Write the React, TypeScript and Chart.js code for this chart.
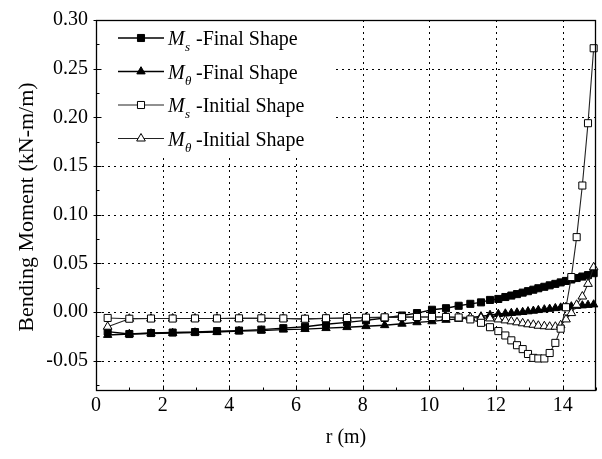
import React, { useEffect, useRef } from "react";
import { Chart, registerables } from "chart.js";
Chart.register(...registerables);

// Radial positions of mesh nodes (m)
const rNodes = [
  0.35, 1.0, 1.65, 2.3, 2.97, 3.63, 4.29, 4.96, 5.62, 6.27, 6.9, 7.53, 8.1, 8.66,
  9.18, 9.63, 10.08, 10.5, 10.88, 11.23, 11.55, 11.82, 12.07, 12.28, 12.46, 12.63,
  12.8, 12.96, 13.12, 13.27, 13.45, 13.61, 13.78, 13.94, 14.1, 14.26, 14.42, 14.59,
  14.76, 14.93,
];

const msFinal = [
  -0.02, -0.0225, -0.0215, -0.021, -0.0205, -0.0195, -0.019, -0.018, -0.0165, -0.015,
  -0.0125, -0.0105, -0.0085, -0.006, -0.0035, -0.001, 0.0024, 0.004, 0.0065, 0.0085,
  0.01, 0.0125, 0.0135, 0.0155, 0.017, 0.0185, 0.02, 0.0215, 0.023, 0.0245, 0.026,
  0.0275, 0.029, 0.0305, 0.032, 0.0335, 0.035, 0.0365, 0.038, 0.04,
];

const mthFinal = [
  -0.0235, -0.0225, -0.022, -0.0215, -0.021, -0.0205, -0.0195, -0.019, -0.018, -0.0175,
  -0.0165, -0.0155, -0.0145, -0.0135, -0.012, -0.0105, -0.0095, -0.008, -0.007, -0.0055,
  -0.0045, -0.003, -0.002, -0.0015, -0.001, -0.0005, 0.0, 0.0007, 0.0013, 0.002, 0.0027,
  0.0033, 0.004, 0.0046, 0.0052, 0.0058, 0.0063, 0.0068, 0.0073, 0.0078,
];

const msInitial = [
  -0.006, -0.0068, -0.0066, -0.0066, -0.0065, -0.0065, -0.0064, -0.0064, -0.0065, -0.0068,
  -0.0063, -0.006, -0.0057, -0.0054, -0.0052, -0.005, -0.005, -0.005, -0.0055, -0.0075,
  -0.011, -0.0155, -0.0195, -0.024, -0.029, -0.034, -0.038, -0.043, -0.047, -0.0476,
  -0.0476, -0.042, -0.0316, -0.017, 0.005, 0.036, 0.077, 0.13, 0.194, 0.271,
];

const mthInitial = [
  -0.015, -0.0068, -0.0066, -0.0066, -0.0065, -0.0065, -0.0064, -0.0064, -0.0066, -0.0072,
  -0.0065, -0.006, -0.0057, -0.0054, -0.0052, -0.005, -0.005, -0.005, -0.0052, -0.0055,
  -0.006, -0.0065, -0.0075, -0.0085, -0.0095, -0.0105, -0.0115, -0.0125, -0.013, -0.014,
  -0.0145, -0.015, -0.015, -0.0135, -0.0075, -0.001, 0.0075, 0.016, 0.029, 0.046,
];

const xTickValues = [0, 2, 4, 6, 8, 10, 12, 14];
const xMinorValues = [1, 3, 5, 7, 9, 11, 13, 15];
const yTickValues = [-0.05, 0.0, 0.05, 0.1, 0.15, 0.2, 0.25, 0.3];
const yMinorValues = [-0.075, -0.025, 0.025, 0.075, 0.125, 0.175, 0.225, 0.275];

const X_MIN = 0;
const X_MAX = 15;
const Y_MIN = -0.08;
const Y_MAX = 0.3;

const xTitle = "r (m)";
const yTitle = "Bending Moment (kN-m/m)";

const seriesNames = [
  { sym: "M", sub: "s", text: "-Final Shape" },
  { sym: "M", sub: "\u03b8", text: "-Final Shape" },
  { sym: "M", sub: "s", text: "-Initial Shape" },
  { sym: "M", sub: "\u03b8", text: "-Initial Shape" },
];

const FONT = '"Liberation Serif", "Times New Roman", serif';

type Style = { shape: "rect" | "triangle"; filled: boolean; line: string; lw: number; r: number };
const styles: Style[] = [
  { shape: "rect", filled: true, line: "#000", lw: 1.4, r: 5 },
  { shape: "triangle", filled: true, line: "#000", lw: 1.4, r: 4.8 },
  { shape: "rect", filled: false, line: "#222", lw: 1.1, r: 5 },
  { shape: "triangle", filled: false, line: "#222", lw: 1.1, r: 5 },
];

function drawMarker(ctx: CanvasRenderingContext2D, st: Style, x: number, y: number) {
  ctx.beginPath();
  if (st.shape === "rect") {
    const s = st.r * Math.SQRT1_2;
    ctx.rect(x - s, y - s, 2 * s, 2 * s);
  } else {
    const r = st.r;
    let a = 0;
    ctx.moveTo(x + Math.sin(a) * r, y - Math.cos(a) * r);
    a += (2 * Math.PI) / 3;
    ctx.lineTo(x + Math.sin(a) * r, y - Math.cos(a) * r);
    a += (2 * Math.PI) / 3;
    ctx.lineTo(x + Math.sin(a) * r, y - Math.cos(a) * r);
    ctx.closePath();
  }
  ctx.fillStyle = st.filled ? "#000" : "#fff";
  ctx.fill();
  ctx.lineWidth = 1;
  ctx.strokeStyle = "#000";
  ctx.stroke();
}

const decorPlugin = {
  id: "decor",
  beforeDatasetsDraw(chart: any) {
    const { ctx, chartArea } = chart;
    const { left, right, top, bottom } = chartArea;
    const xs = chart.scales.x;
    const ys = chart.scales.y;
    ctx.save();
    ctx.strokeStyle = "#000";
    ctx.lineWidth = 1;
    ctx.setLineDash([2, 4]);
    for (const v of xTickValues) {
      if (v <= X_MIN || v >= X_MAX) continue;
      const px = Math.round(xs.getPixelForValue(v)) + 0.5;
      ctx.beginPath();
      ctx.moveTo(px, top);
      ctx.lineTo(px, bottom);
      ctx.stroke();
    }
    for (const v of yTickValues) {
      if (v <= Y_MIN || v >= Y_MAX) continue;
      const py = Math.round(ys.getPixelForValue(v)) + 0.5;
      ctx.beginPath();
      ctx.moveTo(left, py);
      ctx.lineTo(right, py);
      ctx.stroke();
    }
    // legend background box
    ctx.fillStyle = "#fff";
    ctx.fillRect(left + 1, top + 1, 236, 137);
    ctx.restore();
  },
  afterDatasetsDraw(chart: any) {
    const { ctx, chartArea } = chart;
    const { left, right, top, bottom } = chartArea;
    const xs = chart.scales.x;
    const ys = chart.scales.y;
    ctx.save();
    ctx.setLineDash([]);
    ctx.strokeStyle = "#000";
    ctx.lineWidth = 1.3;
    ctx.strokeRect(Math.round(left) + 0.5, Math.round(top) + 0.5, Math.round(right - left) - 1, Math.round(bottom - top));
    ctx.lineWidth = 1;
    const L = Math.round(left) + 0.5;
    const B = Math.round(bottom) + 0.5;
    for (const v of xTickValues) {
      const px = Math.round(xs.getPixelForValue(v)) + 0.5;
      ctx.beginPath();
      ctx.moveTo(px, B);
      ctx.lineTo(px, B - 5);
      ctx.stroke();
    }
    for (const v of xMinorValues) {
      const px = Math.round(xs.getPixelForValue(v)) + 0.5;
      ctx.beginPath();
      ctx.moveTo(px, B);
      ctx.lineTo(px, B - 3);
      ctx.stroke();
    }
    for (const v of yTickValues) {
      const py = Math.round(ys.getPixelForValue(v)) + 0.5;
      ctx.beginPath();
      ctx.moveTo(L - 3, py);
      ctx.lineTo(L + 5, py);
      ctx.stroke();
    }
    for (const v of yMinorValues) {
      const py = Math.round(ys.getPixelForValue(v)) + 0.5;
      ctx.beginPath();
      ctx.moveTo(L, py);
      ctx.lineTo(L + 3, py);
      ctx.stroke();
    }

    // legend
    const rowY = [38, 71.5, 105, 138.5];
    seriesNames.forEach((item, i) => {
      const st = styles[i];
      const y = rowY[i];
      ctx.beginPath();
      ctx.strokeStyle = st.line;
      ctx.lineWidth = st.lw;
      ctx.moveTo(118, y);
      ctx.lineTo(164, y);
      ctx.stroke();
      drawMarker(ctx, st, 141, y);
      ctx.fillStyle = "#000";
      ctx.textAlign = "left";
      ctx.textBaseline = "alphabetic";
      ctx.font = `italic 20px ${FONT}`;
      ctx.fillText(item.sym, 168, y + 7);
      ctx.font = `italic 13px ${FONT}`;
      ctx.fillText(item.sub, 185, y + 13);
      ctx.font = `20px ${FONT}`;
      ctx.fillText(item.text, 196, y + 7);
    });

    // axis titles
    ctx.fillStyle = "#000";
    ctx.font = `20px ${FONT}`;
    ctx.textAlign = "center";
    ctx.textBaseline = "middle";
    ctx.fillText(xTitle, (left + right) / 2, 438);
    ctx.save();
    ctx.font = `22px ${FONT}`;
    ctx.translate(27, (top + bottom) / 2 + 2);
    ctx.rotate(-Math.PI / 2);
    ctx.fillText(yTitle, 0, 0);
    ctx.restore();
    ctx.restore();
  },
};

export default function App() {
  const ref = useRef<HTMLCanvasElement | null>(null);
  useEffect(() => {
    if (!ref.current) return;
    const series = [msFinal, mthFinal, msInitial, mthInitial];
    const datasets = series.map((vals, i) => {
      const st = styles[i];
      return {
        label: `${seriesNames[i].sym}${seriesNames[i].sub}${seriesNames[i].text}`,
        data: rNodes.map((r, k) => ({ x: r, y: vals[k] })),
        borderColor: st.line,
        borderWidth: st.lw,
        backgroundColor: st.filled ? "#000" : "#fff",
        pointBackgroundColor: st.filled ? "#000" : "#fff",
        pointBorderColor: "#000",
        pointBorderWidth: 1,
        pointStyle: st.shape,
        pointRadius: st.r,
        pointHoverRadius: st.r,
        tension: 0,
        fill: false,
        clip: 8,
        order: i < 2 ? 1 : 0,
      };
    });
    const chart = new Chart(ref.current, {
      type: "line",
      data: { datasets },
      options: {
        animation: false,
        responsive: true,
        maintainAspectRatio: false,
        layout: { padding: { top: 16, right: 1, left: 0, bottom: 0 } },
        plugins: { legend: { display: false }, tooltip: { enabled: false } },
        scales: {
          x: {
            type: "linear",
            min: X_MIN,
            max: X_MAX,
            grid: { display: false, drawTicks: false },
            border: { display: false },
            afterBuildTicks: (s: any) => {
              s.ticks = xTickValues.map((v) => ({ value: v }));
            },
            afterFit: (s: any) => {
              s.height = 69;
            },
            ticks: {
              color: "#000",
              padding: 4,
              maxRotation: 0,
              autoSkip: false,
              font: { family: FONT, size: 20 },
              callback: (v: any) => String(v),
            },
          },
          y: {
            type: "linear",
            min: Y_MIN,
            max: Y_MAX,
            grid: { display: false, drawTicks: false },
            border: { display: false },
            afterBuildTicks: (s: any) => {
              s.ticks = yTickValues.map((v) => ({ value: v }));
            },
            afterFit: (s: any) => {
              s.width = 96;
            },
            ticks: {
              color: "#000",
              padding: 8,
              autoSkip: false,
              font: { family: FONT, size: 20 },
              callback: (v: any) => Number(v).toFixed(2),
            },
          },
        },
      },
      plugins: [decorPlugin],
    });
    return () => chart.destroy();
  }, []);
  return (
    <div style={{ position: "absolute", left: 0, top: 0, width: 602, height: 459, background: "#fff" }}>
      <canvas ref={ref} />
    </div>
  );
}
